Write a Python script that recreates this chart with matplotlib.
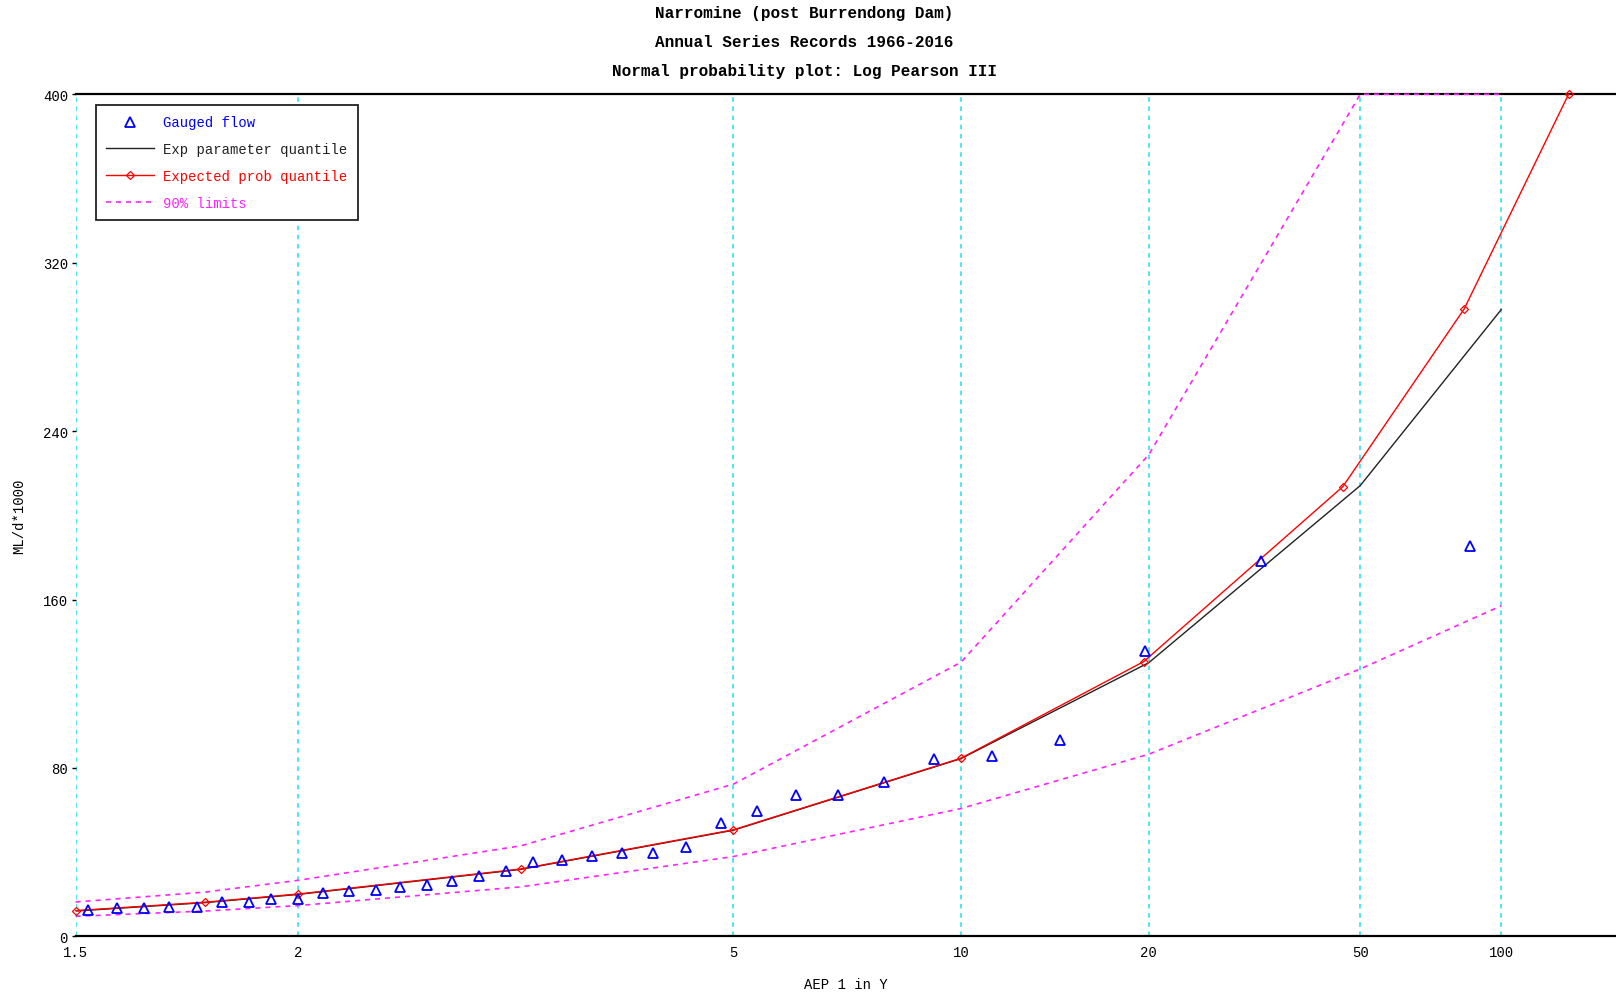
import numpy as np
import matplotlib
matplotlib.use("Agg")
import matplotlib.pyplot as plt
from matplotlib.ticker import FixedLocator, NullLocator
from statistics import NormalDist

# Gauged flow: AEP (1 in Y) plotting positions and flows (ML/d*1000)
gauged_aep = [85.33, 32.0, 19.69, 14.22, 11.13, 9.14, 7.76, 6.74, 5.95, 5.33,
              4.83, 4.41, 4.06, 3.76, 3.51, 3.28, 3.08, 2.91, 2.75, 2.61,
              2.49, 2.37, 2.27, 2.17, 2.08, 2.00, 1.92, 1.86, 1.79, 1.73,
              1.67, 1.62, 1.57, 1.52]
gauged_flow = [185.3, 178.4, 135.6, 93.4, 85.5, 84.4, 73.4, 67.3, 67.3, 59.4,
               53.8, 42.3, 39.4, 39.4, 38.3, 36.4, 35.1, 31.2, 28.5, 26.1,
               24.5, 23.3, 22.1, 21.7, 20.6, 17.7, 17.6, 16.4, 16.4, 13.9,
               13.8, 13.5, 13.3, 12.6]

# Exp parameter quantile
quant_aep = [1.5, 1.75, 2, 3, 5, 10, 20, 50, 100]
quant_flow = [12.0, 16.0, 19.9, 31.8, 50.4, 84.4, 130.0, 214.1, 297.7]

# Expected prob quantile
exp_aep = [1.5, 1.75, 2, 3, 5, 10, 19.6, 46.1, 82.8, 142.6]
exp_flow = [12.2, 16.2, 20.1, 32.0, 50.6, 84.6, 130.5, 213.6, 298.0, 400.0]

# 90% limits (upper clipped at 400)
lim_aep = [1.5, 1.75, 2, 3, 5, 10, 20, 50, 100]
lim_upper = [16.3, 21.0, 26.6, 43.0, 72.3, 130.2, 228.8, 400.0, 400.0]
lim_lower = [9.5, 12.0, 14.6, 23.5, 37.9, 60.7, 86.5, 127.0, 157.0]

x_ticks = [1.5, 2, 5, 10, 20, 50, 100]
y_ticks = [0, 80, 160, 240, 320, 400]

nd = NormalDist()
_ppf = np.vectorize(nd.inv_cdf, otypes=[float])
_cdf = np.vectorize(nd.cdf, otypes=[float])


def aep_to_z(y):
    y = np.asarray(y, dtype=float)
    p = 1.0 - 1.0 / np.clip(y, 1.0000001, None)
    p = np.clip(p, 1e-9, 1 - 1e-9)
    return _ppf(p)


def z_to_aep(z):
    z = np.asarray(z, dtype=float)
    c = np.clip(_cdf(z), 0.0, 1 - 1e-12)
    return 1.0 / (1.0 - c)


plt.rcParams['font.family'] = ['Liberation Mono', 'DejaVu Sans Mono']

fig = plt.figure(figsize=(16.16, 9.95), dpi=100)
ax = fig.add_axes([75.6 / 1616, 1 - 937.3 / 995, 1 - 75.6 / 1616, (937.3 - 95.3) / 995])
ax.set_xscale('function', functions=(aep_to_z, z_to_aep))

ax.plot(lim_aep, lim_upper, color='#FF22FF', linestyle=(0, (3, 3)), linewidth=1.2,
        label='90% limits', clip_on=False, zorder=3)
ax.plot(lim_aep, lim_lower, color='#FF22FF', linestyle=(0, (3, 3)), linewidth=1.2,
        clip_on=False, zorder=3)
ax.plot(quant_aep, quant_flow, color='#222222', linewidth=1.0,
        label='Exp parameter quantile', zorder=4)
ax.plot(exp_aep, exp_flow, color='#FF0000', linewidth=1.0, marker='D', markersize=4.5,
        markerfacecolor='none', markeredgewidth=0.9, label='Expected prob quantile',
        clip_on=False, zorder=5)
ax.plot(gauged_aep, gauged_flow, linestyle='none', marker='^', markersize=6.5,
        markerfacecolor='none', markeredgecolor='#0000FF', color='#0000FF',
        markeredgewidth=1.3, label='Gauged flow', zorder=6)

ax.set_xlim(1.5, 184.8)
ax.set_ylim(0, 400)
ax.xaxis.set_major_locator(FixedLocator(x_ticks))
ax.xaxis.set_minor_locator(NullLocator())
ax.set_xticklabels(['1.5', '2', '5', '10', '20', '50', '100'])
ax.set_yticks(y_ticks)
ax.tick_params(axis='x', length=0, pad=6, labelsize=10)
ax.tick_params(axis='y', length=3, width=1, pad=2.5, labelsize=10)
ax.grid(axis='x', color='#22DDEE', linestyle=(0, (3, 3)), linewidth=1.1)

for side in ['left', 'right']:
    ax.spines[side].set_visible(False)
ax.spines['top'].set_linewidth(1.6)
ax.spines['bottom'].set_linewidth(1.6)

ax.set_xlabel('AEP 1 in Y', fontsize=10, labelpad=13)
ax.set_ylabel('ML/d*1000', fontsize=10)
ax.yaxis.set_label_coords(-0.0318, 0.5)

handles, labels = ax.get_legend_handles_labels()
order = [3, 1, 2, 0]
leg = ax.legend([handles[i] for i in order], [labels[i] for i in order],
                loc='upper left', bbox_to_anchor=(96 / 1616, 1 - 106 / 995),
                bbox_transform=fig.transFigure, borderaxespad=0,
                fancybox=False, framealpha=1, edgecolor='#222222',
                fontsize=10, labelcolor='linecolor', handlelength=3.4,
                handletextpad=0.7, labelspacing=0.92, borderpad=0.75)
leg.get_frame().set_linewidth(1.3)

title_lines = ['Narromine (post Burrendong Dam)',
               'Annual Series Records 1966-2016',
               'Normal probability plot: Log Pearson III']
for i, line in enumerate(title_lines):
    fig.text(804 / 1616, 1 - (13.6 + 28.9 * i) / 995, line, ha='center', va='center',
             fontsize=11.5, fontweight='bold')

fig.savefig('out.png', dpi=100)
